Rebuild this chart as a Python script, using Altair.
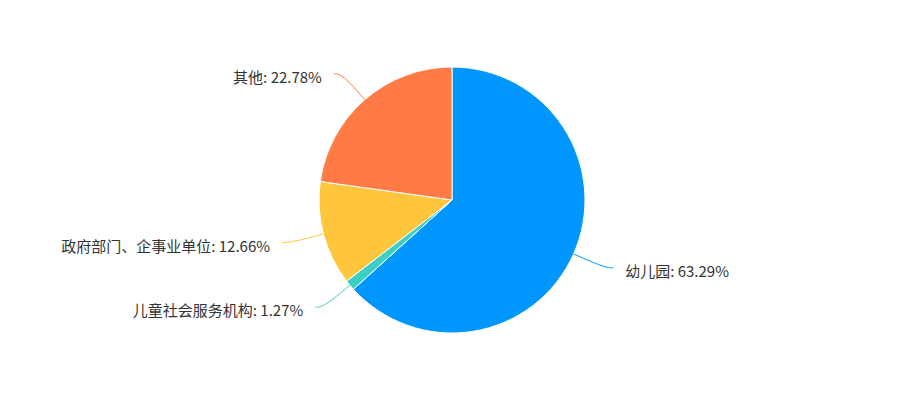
import altair as alt
import pandas as pd

names = ["幼儿园", "儿童社会服务机构", "政府部门、企事业单位", "其他"]
shares = [63.29, 1.27, 12.66, 22.78]
colors = ["#0096FF", "#3CCFC6", "#FFC53D", "#FF7A45"]

W, H = 884, 384
CX, CY = 444, 192       # pie centre inside the plot area
R = 133                 # pie radius
L1, L2, GAP = 34, 8.5, 12  # leader line: radial part, horizontal part, gap to text

df = pd.DataFrame({"name": names, "value": shares, "idx": range(len(names))})
df["label"] = [f"{n}: {v:.2f}%" for n, v in zip(names, shares)]

color = alt.Color("name:N", scale=alt.Scale(domain=names, range=colors), legend=None)
xs = alt.Scale(domain=[-CX, W - CX])
ys = alt.Scale(domain=[-(H - CY), CY])

base = (
    alt.Chart(df)
    .transform_joinaggregate(total="sum(value)")
    .transform_window(cum="sum(value)", sort=[{"field": "idx"}], frame=[None, 0])
    .transform_calculate(mid="(datum.cum - datum.value / 2) / datum.total * 2 * PI")
    .transform_calculate(s="sin(datum.mid)", c="cos(datum.mid)")
)

pie = alt.Chart(df).mark_arc(outerRadius=R, stroke="white", strokeWidth=1).encode(
    theta=alt.Theta("value:Q", stack=True),
    order=alt.Order("idx:Q"),
    color=color,
    x=alt.value(CX),
    y=alt.value(CY),
)

lines = (
    base.transform_calculate(step="[0, 1, 2]")
    .transform_flatten(["step"])
    .transform_calculate(
        r=f"datum.step == 0 ? {R} : {R + L1}",
        h=f"datum.step == 2 ? {L2} : 0",
    )
    .transform_calculate(
        px="datum.r * datum.s + (datum.s > 0 ? 1 : -1) * datum.h",
        py="datum.r * datum.c",
    )
    .mark_line(strokeWidth=1, interpolate="basis")
    .encode(
        x=alt.X("px:Q", scale=xs, axis=None),
        y=alt.Y("py:Q", scale=ys, axis=None),
        detail="name:N",
        order="step:Q",
        color=color,
    )
)

text_pos = base.transform_calculate(
    px=f"{R + L1} * datum.s + (datum.s > 0 ? 1 : -1) * {L2 + GAP}",
    py=f"{R + L1} * datum.c - 4",
)
text_enc = dict(
    x=alt.X("px:Q", scale=xs, axis=None),
    y=alt.Y("py:Q", scale=ys, axis=None),
    text="label:N",
)
font = dict(font="Noto Sans CJK SC", fontSize=15, color="#333333", baseline="middle")
right_labels = text_pos.transform_filter("datum.s > 0").mark_text(align="left", **font).encode(**text_enc)
left_labels = text_pos.transform_filter("datum.s <= 0").mark_text(align="right", **font).encode(**text_enc)

chart = (
    alt.layer(pie, lines, right_labels, left_labels)
    .properties(width=W, height=H, padding=0, background="white")
    .configure_view(strokeWidth=0)
)

chart.save("out.html", embed_options={"renderer": "svg", "actions": False})
